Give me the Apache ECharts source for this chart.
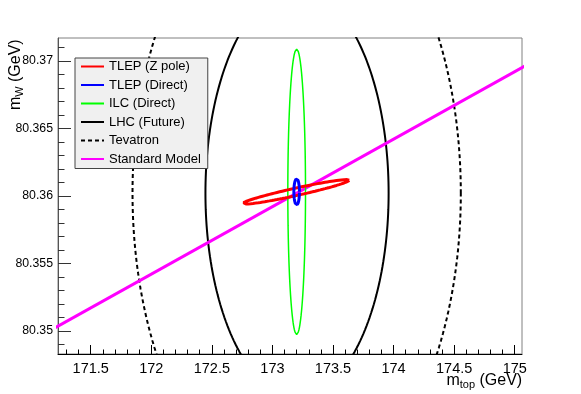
<!DOCTYPE html>
<html>
<head>
<meta charset="utf-8">
<script src="https://cdn.jsdelivr.net/npm/echarts@6/dist/echarts.min.js"></script>
<style>
  html, body { margin: 0; padding: 0; background: #fff; }
  #chart { width: 581px; height: 394px; }
</style>
</head>
<body>
<div id="chart"></div>
<script>
// ellipse = [centre mt, centre mW, half-axis u (dmt, dmW), conjugate half-axis v (dmt, dmW)]
const tlepZPole = [173.195, 80.3603, 0.439, 0.00086, 0, 0.00028]
const tlepDirect = [173.2, 80.3603, 0.023, 0, 0, 0.00098]
const ilcDirect = [173.2, 80.3603, 0.073, 0, 0, 0.01057]
const lhcFuture = [173.203, 80.3602, 0.756, 0, 0, 0.0151]
const tevatron = [173.2, 80.3602, 1.355, 0, 0, 0.0229]
// standard model line
const smMt = [171.2, 175.1]
const smMw = [80.3502, 80.3697]

const xMin = 171.23
const xMax = 175.06
const yMin = 80.34829
const yMax = 80.37169
const xMajorTicks = [171.5, 172, 172.5, 173, 173.5, 174, 174.5, 175]
const yMajorTicks = [80.35, 80.355, 80.36, 80.365, 80.37]

const xMinorTicks = []
for (let i = 1713; i <= 1750; i++) xMinorTicks.push(i / 10)
const yMinorTicks = []
for (let i = 80349; i <= 80371; i++) yMinorTicks.push(i / 1000)

function ellipse(p) {
  const pts = []
  const n = 240
  for (let k = 0; k <= n; k++) {
    const t = 2 * Math.PI * k / n
    pts.push([p[0] + p[2] * Math.cos(t) + p[4] * Math.sin(t),
      p[1] + p[3] * Math.cos(t) + p[5] * Math.sin(t)])
  }
  return pts
}

const font = 'Liberation Sans'
const chart = echarts.init(document.getElementById('chart'))

const lineSeries = (name, data, color, width, type) => ({
  name: name,
  type: 'line',
  data: data,
  showSymbol: false,
  symbol: 'none',
  smooth: false,
  clip: true,
  lineStyle: { color: color, width: width, type: type || 'solid' },
  itemStyle: { color: color },
  emphasis: { disabled: true },
  animation: false
})

chart.setOption({
  animation: false,
  grid: {
    left: 58, top: 38, width: 464, height: 316,
    show: true, borderColor: '#808080', borderWidth: 1, backgroundColor: 'transparent'
  },
  xAxis: [{
    type: 'value', min: xMin, max: xMax, position: 'bottom',
    axisLine: { show: true, onZero: false, lineStyle: { color: '#000', width: 1 } },
    axisTick: { show: true, inside: true, length: 9, customValues: xMajorTicks, lineStyle: { color: '#000' } },
    axisLabel: {
      show: true, customValues: xMajorTicks, margin: 7, color: '#000',
      fontFamily: font, fontSize: 14.5, formatter: v => '' + v
    },
    splitLine: { show: false }
  }, {
    type: 'value', min: xMin, max: xMax, position: 'bottom',
    axisLine: { show: false },
    axisTick: { show: true, inside: true, length: 4.5, customValues: xMinorTicks, lineStyle: { color: '#000' } },
    axisLabel: { show: false },
    splitLine: { show: false }
  }],
  yAxis: [{
    type: 'value', min: yMin, max: yMax, position: 'left',
    axisLine: { show: true, onZero: false, lineStyle: { color: '#555', width: 1 } },
    axisTick: { show: true, inside: true, length: 13, customValues: yMajorTicks, lineStyle: { color: '#333' } },
    axisLabel: {
      show: true, customValues: yMajorTicks, margin: 5, color: '#000',
      fontFamily: font, fontSize: 12.3, formatter: v => '' + v
    },
    splitLine: { show: false }
  }, {
    type: 'value', min: yMin, max: yMax, position: 'left',
    axisLine: { show: false },
    axisTick: { show: true, inside: true, length: 6.5, customValues: yMinorTicks, lineStyle: { color: '#333' } },
    axisLabel: { show: false },
    splitLine: { show: false }
  }],
  legend: {
    orient: 'vertical',
    left: 75, top: 58,
    data: ['TLEP (Z pole)', 'TLEP (Direct)', 'ILC (Direct)', 'LHC (Future)', 'Tevatron', 'Standard Model'],
    itemWidth: 23, itemHeight: 12, itemGap: 5.5,
    padding: [2, 7, 3, 5],
    backgroundColor: '#f0f0f0',
    borderColor: '#444', borderWidth: 1,
    selectedMode: false,
    itemStyle: { opacity: 0 },
    textStyle: { fontFamily: font, fontSize: 13, color: '#000' }
  },
  graphic: [{
    type: 'group', x: 20, y: 110, rotation: Math.PI / 2,
    children: [
      { type: 'text', x: 0, y: -4.8, style: { text: 'm', fontFamily: font, fontSize: 16, fill: '#000', verticalAlign: 'middle' } },
      { type: 'text', x: 13.3, y: 0, style: { text: 'W', fontFamily: font, fontSize: 11, fill: '#000', verticalAlign: 'middle' } },
      { type: 'text', x: 28, y: -4.8, style: { text: '(GeV)', fontFamily: font, fontSize: 16, fill: '#000', verticalAlign: 'middle' } }
    ]
  }, {
    type: 'group', x: 446.5, y: 385,
    children: [
      { type: 'text', x: 0, y: -4.8, style: { text: 'm', fontFamily: font, fontSize: 16, fill: '#000', verticalAlign: 'middle' } },
      { type: 'text', x: 13.3, y: 0, style: { text: 'top', fontFamily: font, fontSize: 11, fill: '#000', verticalAlign: 'middle' } },
      { type: 'text', x: 33, y: -4.8, style: { text: '(GeV)', fontFamily: font, fontSize: 16, fill: '#000', verticalAlign: 'middle' } }
    ]
  }],
  series: [
    lineSeries('Tevatron', ellipse(tevatron), '#000', 2, [4, 3]),
    lineSeries('LHC (Future)', ellipse(lhcFuture), '#000', 2),
    lineSeries('Standard Model', smMt.map((m, i) => [m, smMw[i]]), '#ff00ff', 3),
    lineSeries('ILC (Direct)', ellipse(ilcDirect), '#00ff00', 1.5),
    lineSeries('TLEP (Z pole)', ellipse(tlepZPole), '#ff0000', 3),
    lineSeries('TLEP (Direct)', ellipse(tlepDirect), '#0000ff', 3)
  ]
})
</script>
</body>
</html>
